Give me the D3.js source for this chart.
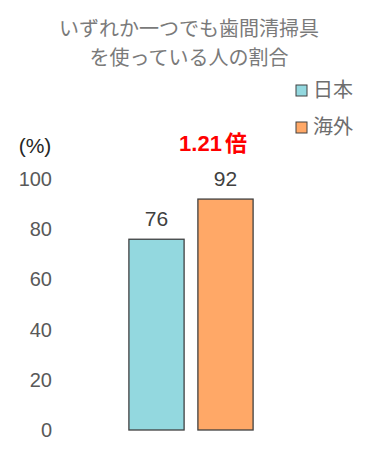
<!DOCTYPE html>
<html>
<head>
<meta charset="utf-8">
<script src="https://cdn.jsdelivr.net/npm/d3@7"></script>
<style>
  body { margin: 0; background: #fff; }
  text { font-family: "Liberation Sans", Arial, "Noto Sans CJK JP", sans-serif; }
</style>
</head>
<body>
<div id="chart"></div>
<script>
// data
const categories = ["日本", "海外"];
const values = [76, 92];
const colors = ["#93D8DF", "#FFA867"];
const yTicks = [0, 20, 40, 60, 80, 100];
const titleLines = ["いずれか一つでも歯間清掃具", "を使っている人の割合"];
const ratioLabel = ["1.21", "倍"];

const width = 375, height = 450;

const svg = d3.select("#chart").append("svg")
    .attr("width", width)
    .attr("height", height);

const y = d3.scaleLinear().domain([0, 100]).range([430, 179]);
const x = d3.scaleBand().domain(categories).range([122, 260]).paddingInner(0.2).paddingOuter(0.1);

// title, two lines
svg.append("g").selectAll("text")
  .data(titleLines)
  .enter().append("text")
    .attr("x", 189)
    .attr("y", (d, i) => 36 + i * 29)
    .attr("text-anchor", "middle")
    .style("font-family", "'Noto Sans CJK JP', sans-serif")
    .style("font-size", "20px")
    .style("fill", "#7a7a7a")
    .text(d => d);

// y axis labels
const yAxis = svg.append("g")
    .attr("transform", "translate(52,0)")
    .call(d3.axisLeft(y).tickValues(yTicks).tickSize(0).tickPadding(0));
yAxis.select(".domain").remove();
yAxis.selectAll("text")
    .style("font-size", "20px")
    .style("fill", "#595959")
    .style("font-family", "'Liberation Sans', Arial, sans-serif");

svg.append("text")
    .attr("x", 35)
    .attr("y", 153)
    .attr("text-anchor", "middle")
    .style("font-size", "21px")
    .style("fill", "#262626")
    .text("(%)");

// bars
svg.selectAll("rect.bar")
  .data(values)
  .enter().append("rect")
    .attr("class", "bar")
    .attr("x", (d, i) => x(categories[i]))
    .attr("y", d => y(d))
    .attr("width", x.bandwidth())
    .attr("height", d => y(0) - y(d))
    .style("fill", (d, i) => colors[i])
    .style("stroke", "#404040")
    .style("stroke-width", 1.3);

// value labels
svg.selectAll("text.val")
  .data(values)
  .enter().append("text")
    .attr("class", "val")
    .attr("x", (d, i) => x(categories[i]) + x.bandwidth() / 2)
    .attr("y", d => y(d) - 13)
    .attr("text-anchor", "middle")
    .style("font-size", "21px")
    .style("fill", "#404040")
    .text(d => d);

// ratio annotation
const ratio = svg.append("text")
    .attr("x", 213)
    .attr("y", 151)
    .attr("text-anchor", "middle")
    .style("font-weight", "bold")
    .style("fill", "#FF0000");
ratio.append("tspan").style("font-size", "22px").text(ratioLabel[0]);
ratio.append("tspan").attr("dx", 3)
    .style("font-size", "22px")
    .style("font-family", "'Noto Sans CJK JP', sans-serif")
    .text(ratioLabel[1]);

// legend
const legend = svg.append("g").selectAll("g")
  .data(categories)
  .enter().append("g")
    .attr("transform", (d, i) => "translate(296," + (85 + i * 37) + ")");
legend.append("rect")
    .attr("width", 11).attr("height", 11)
    .style("fill", (d, i) => colors[i])
    .style("stroke", "#404040")
    .style("stroke-width", 1);
legend.append("text")
    .attr("x", 17)
    .attr("y", 12)
    .style("font-family", "'Noto Sans CJK JP', sans-serif")
    .style("font-size", "20px")
    .style("fill", "#6e6e6e")
    .text(d => d);
</script>
</body>
</html>
